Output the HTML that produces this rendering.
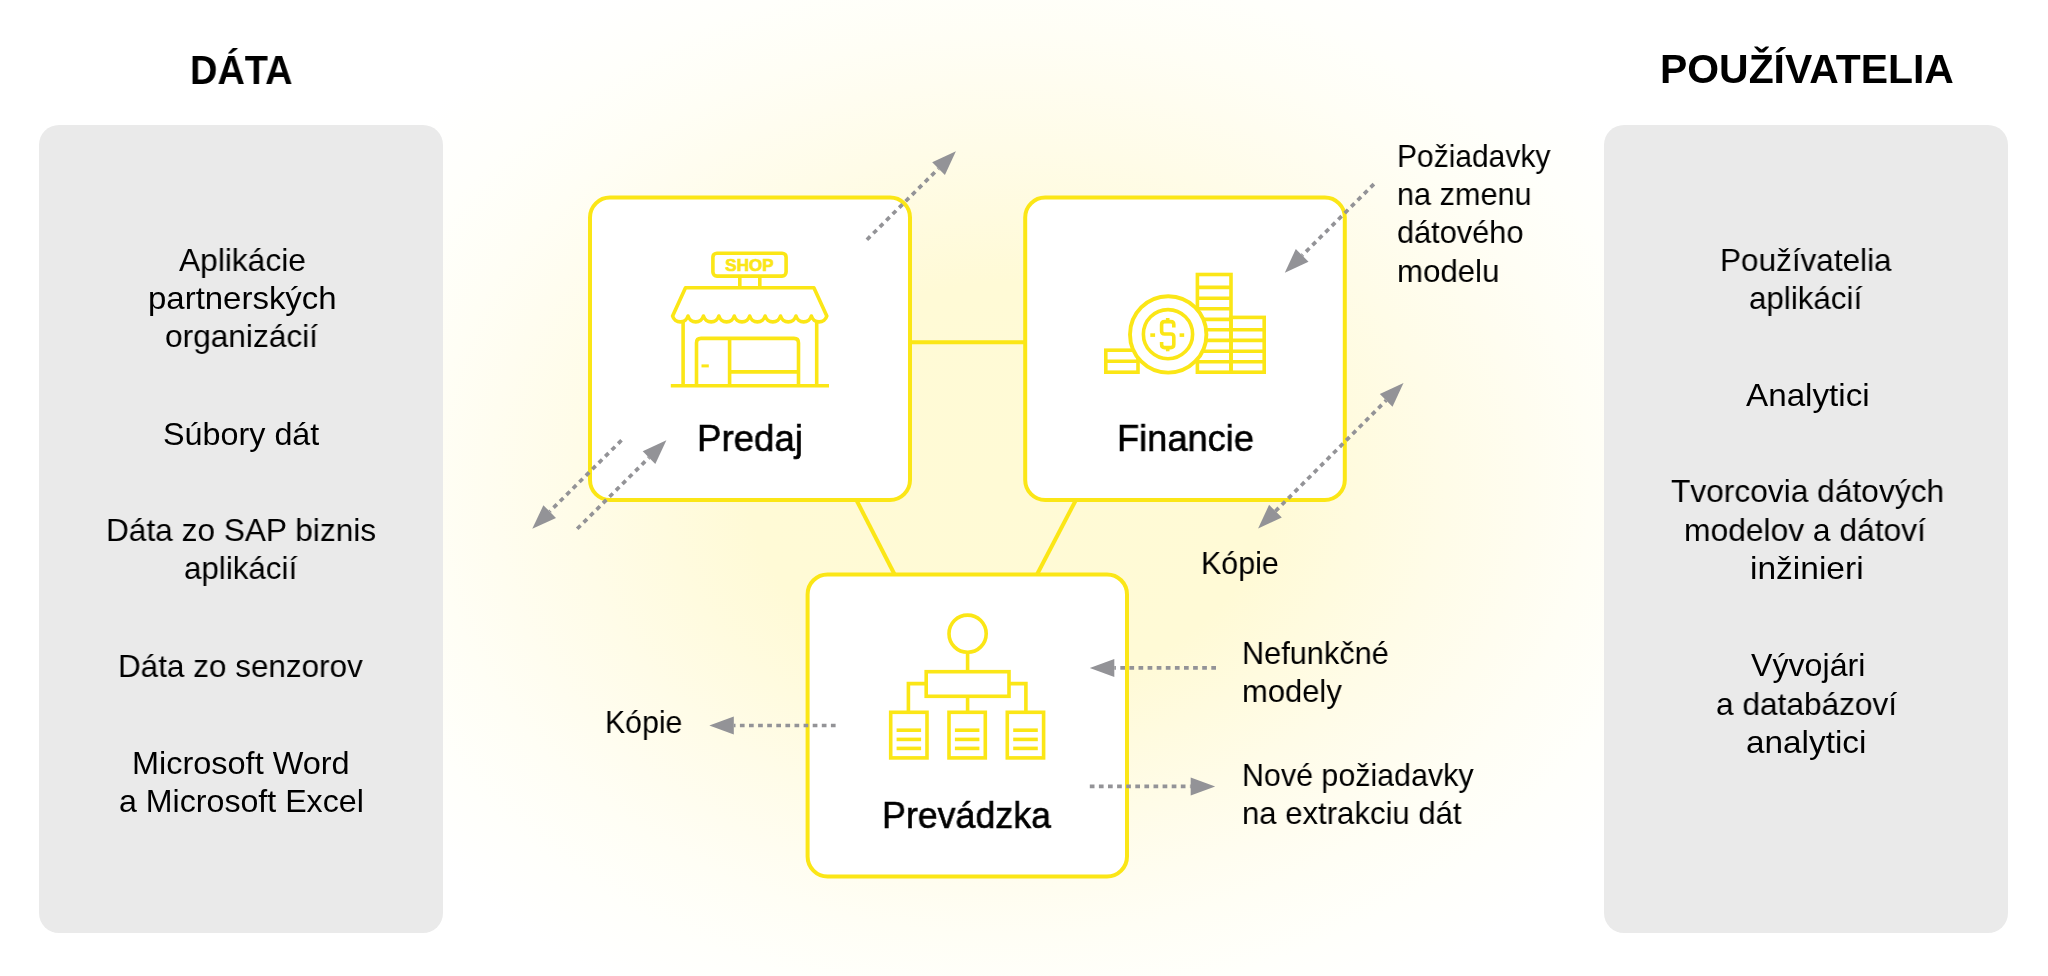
<!DOCTYPE html>
<html><head><meta charset="utf-8"><style>
html,body{margin:0;padding:0;}
body{width:2048px;height:976px;position:relative;overflow:hidden;background:#fff;font-family:"Liberation Sans", sans-serif;color:#000;}
.glow{position:absolute;left:0;top:0;width:2048px;height:976px;background:radial-gradient(ellipse 580px 450px at 1010px 485px, rgb(255,250,213) 0%, rgb(255,250,214) 45%, rgb(255,251,223) 60%, rgb(255,252,232) 75%, rgb(255,253,240) 90%, rgb(255,254,245) 100%, rgb(255,255,251) 115%, #ffffff 130%);}
.panel{position:absolute;top:125px;width:404px;height:808px;background:#eaeaea;border-radius:20px;}
svg{position:absolute;left:0;top:0;}
.t{position:absolute;white-space:nowrap;transform-origin:0 0;will-change:transform;font-family:"Liberation Sans", sans-serif;color:#000;}
</style></head><body>
<div class="glow"></div>
<div class="panel" style="left:39px"></div>
<div class="panel" style="left:1604px"></div>
<svg width="2048" height="976" viewBox="0 0 2048 976">
<g stroke="#fbe616" stroke-width="4" fill="none">
<line x1="905" y1="342.2" x2="1030" y2="342.2"/>
<line x1="856.4" y1="500" x2="894.6" y2="574.5"/>
<line x1="1075.9" y1="500" x2="1037" y2="574.5"/>
</g>
<g stroke="#fbe616" stroke-width="4" fill="#fff">
<rect x="590" y="197.6" width="320" height="302.4" rx="20"/>
<rect x="1025.2" y="197.6" width="319.6" height="302.4" rx="20"/>
<rect x="807.6" y="574.4" width="319.4" height="302.1" rx="20"/>
</g>

<g fill="none" stroke="#fbe616" stroke-width="3.6" stroke-linejoin="round">
<rect x="712.9" y="253.2" width="73.2" height="22.9" rx="4"/>
<line x1="739.8" y1="276" x2="739.8" y2="288"/>
<line x1="759.8" y1="276" x2="759.8" y2="288"/>
<path d="M672.6,316 L685.5,287.8 L813.9,287.8 L826.8,316 A8.01,8.01 0 0 1 811.38,316 A8.01,8.01 0 0 1 795.96,316 A8.01,8.01 0 0 1 780.54,316 A8.01,8.01 0 0 1 765.12,316 A8.01,8.01 0 0 1 749.70,316 A8.01,8.01 0 0 1 734.28,316 A8.01,8.01 0 0 1 718.86,316 A8.01,8.01 0 0 1 703.44,316 A8.01,8.01 0 0 1 688.02,316 A8.01,8.01 0 0 1 672.60,316 Z"/>
<line x1="683.1" y1="322" x2="683.1" y2="385.7"/>
<line x1="816.7" y1="322" x2="816.7" y2="385.7"/>
<line x1="670.8" y1="385.7" x2="829" y2="385.7"/>
<path d="M696.5,385.7 V343 Q696.5,338.4 701,338.4 H794 Q798.5,338.4 798.5,343 V385.7"/>
<line x1="729.6" y1="338.4" x2="729.6" y2="385.7"/>
<line x1="729.6" y1="371.9" x2="798.5" y2="371.9"/>
<line x1="701.5" y1="365.9" x2="708.8" y2="365.9" stroke-width="3"/>
</g>
<text x="749.5" y="270.6" font-family='"Liberation Sans"' font-weight="700" font-size="16.5" fill="#fbe616" stroke="#fbe616" stroke-width="0.7" text-anchor="middle" textLength="48.3" lengthAdjust="spacingAndGlyphs">SHOP</text>


<g fill="none" stroke="#fbe616" stroke-width="3.6">
<rect x="1105.8" y="350.2" width="32.200000000000045" height="22.0"/><line x1="1105.8" y1="361.20" x2="1138" y2="361.20"/>
<rect x="1197.4" y="274.5" width="33.59999999999991" height="97.69999999999999"/><line x1="1197.4" y1="287.40" x2="1231" y2="287.40"/><line x1="1197.4" y1="298.20" x2="1231" y2="298.20"/><line x1="1197.4" y1="308.80" x2="1231" y2="308.80"/><line x1="1197.4" y1="319.40" x2="1231" y2="319.40"/><line x1="1197.4" y1="329.80" x2="1231" y2="329.80"/><line x1="1197.4" y1="340.40" x2="1231" y2="340.40"/><line x1="1197.4" y1="351.20" x2="1231" y2="351.20"/><line x1="1197.4" y1="361.80" x2="1231" y2="361.80"/>
<rect x="1231" y="317.4" width="33.200000000000045" height="54.80000000000001"/><line x1="1231" y1="329.80" x2="1264.2" y2="329.80"/><line x1="1231" y1="340.40" x2="1264.2" y2="340.40"/><line x1="1231" y1="351.20" x2="1264.2" y2="351.20"/><line x1="1231" y1="361.80" x2="1264.2" y2="361.80"/>
<circle cx="1168.2" cy="334.4" r="38.2" fill="#fff" stroke-width="3.9"/>
<circle cx="1168" cy="334.2" r="24.6"/>
<path d="M1173.8,327.5 V324.6 Q1173.8,321.6 1170.8,321.6 H1164.6 Q1161.6,321.6 1161.6,324.6 V331 Q1161.6,334 1164.6,334 H1170.8 Q1173.8,334 1173.8,337 V344.6 Q1173.8,347.6 1170.8,347.6 H1164.6 Q1161.6,347.6 1161.6,344.6 V342"/>
<line x1="1167.7" y1="318" x2="1167.7" y2="321.6"/>
<line x1="1167.7" y1="347.6" x2="1167.7" y2="351.3"/>
<line x1="1150.3" y1="335.1" x2="1155.1" y2="335.1"/>
<line x1="1179.6" y1="335.1" x2="1184.2" y2="335.1"/>
</g>


<g fill="none" stroke="#fbe616" stroke-width="3.6">
<circle cx="967.6" cy="633.7" r="18.6"/>
<line x1="967.6" y1="652.3" x2="967.6" y2="671.7"/>
<rect x="926.2" y="671.7" width="82.8" height="24.6"/>
<polyline points="926.2,683.6 908.4,683.6 908.4,712.3"/>
<polyline points="1009,683.6 1025.9,683.6 1025.9,712.3"/>
<line x1="967.6" y1="696.3" x2="967.6" y2="712.3"/>
<rect x="890.7" y="712.3" width="36.3" height="45.6"/>
<rect x="949" y="712.3" width="36.3" height="45.6"/>
<rect x="1007.3" y="712.3" width="36.3" height="45.6"/>
<line x1="896.6" y1="730.2" x2="921.1" y2="730.2"/><line x1="896.6" y1="739.4" x2="921.1" y2="739.4"/><line x1="896.6" y1="748.4" x2="921.1" y2="748.4"/><line x1="954.9" y1="730.2" x2="979.4" y2="730.2"/><line x1="954.9" y1="739.4" x2="979.4" y2="739.4"/><line x1="954.9" y1="748.4" x2="979.4" y2="748.4"/><line x1="1013.2" y1="730.2" x2="1037.8" y2="730.2"/><line x1="1013.2" y1="739.4" x2="1037.8" y2="739.4"/><line x1="1013.2" y1="748.4" x2="1037.8" y2="748.4"/></g>
<line x1="621.5" y1="440.3" x2="549.7" y2="511.5" stroke="#939397" stroke-width="3.7" stroke-dasharray="4.7 4.4"/>
<polygon points="532.3,528.8 543.4,505.2 556.0,517.9" fill="#939397"/>
<line x1="577.2" y1="528.8" x2="649.0" y2="457.6" stroke="#939397" stroke-width="3.7" stroke-dasharray="4.7 4.4"/>
<polygon points="666.4,440.3 655.3,463.9 642.7,451.2" fill="#939397"/>
<line x1="866.9" y1="239.7" x2="938.5" y2="168.6" stroke="#939397" stroke-width="3.7" stroke-dasharray="4.7 4.4"/>
<polygon points="955.9,151.3 944.9,175.0 932.2,162.2" fill="#939397"/>
<line x1="1373.9" y1="184.1" x2="1302.2" y2="255.4" stroke="#939397" stroke-width="3.7" stroke-dasharray="4.7 4.4"/>
<polygon points="1284.8,272.7 1295.8,249.0 1308.5,261.8" fill="#939397"/>
<polygon points="1258.1,528.5 1281.8,517.5 1269.1,504.8" fill="#939397"/>
<line x1="1275.4" y1="511.2" x2="1386.2" y2="400.4" stroke="#939397" stroke-width="3.7" stroke-dasharray="4.7 4.4"/>
<polygon points="1403.5,383.1 1392.5,406.8 1379.8,394.1" fill="#939397"/>
<line x1="1216.0" y1="667.9" x2="1114.3" y2="667.9" stroke="#939397" stroke-width="3.7" stroke-dasharray="4.7 4.4"/>
<polygon points="1089.8,667.9 1114.3,658.9 1114.3,676.9" fill="#939397"/>
<line x1="1089.8" y1="786.4" x2="1190.7" y2="786.4" stroke="#939397" stroke-width="3.7" stroke-dasharray="4.7 4.4"/>
<polygon points="1215.2,786.4 1190.7,795.4 1190.7,777.4" fill="#939397"/>
<line x1="835.6" y1="725.5" x2="733.8" y2="725.5" stroke="#939397" stroke-width="3.7" stroke-dasharray="4.7 4.4"/>
<polygon points="709.3,725.5 733.8,716.5 733.8,734.5" fill="#939397"/>
</svg>
<div class="t" style="left:190.33px;top:49.60px;font-size:40px;line-height:40px;font-weight:700;transform:scaleX(0.9480);">DÁTA</div><div class="t" style="left:1659.64px;top:49.30px;font-size:40px;line-height:40px;font-weight:700;transform:scaleX(1.0225);">POUŽÍVATELIA</div><div class="t" style="left:179.10px;top:243.70px;font-size:32px;line-height:32px;font-weight:400;transform:scaleX(0.9909);">Aplikácie</div><div class="t" style="left:147.54px;top:281.80px;font-size:32px;line-height:32px;font-weight:400;transform:scaleX(1.0298);">partnerských</div><div class="t" style="left:164.56px;top:320.00px;font-size:32px;line-height:32px;font-weight:400;transform:scaleX(0.9889);">organizácií</div><div class="t" style="left:162.68px;top:418.00px;font-size:32px;line-height:32px;font-weight:400;transform:scaleX(1.0101);">Súbory dát</div><div class="t" style="left:106.33px;top:514.40px;font-size:32px;line-height:32px;font-weight:400;transform:scaleX(0.9883);">Dáta zo SAP biznis</div><div class="t" style="left:184.38px;top:552.30px;font-size:32px;line-height:32px;font-weight:400;transform:scaleX(0.9794);">aplikácií</div><div class="t" style="left:117.94px;top:650.00px;font-size:32px;line-height:32px;font-weight:400;transform:scaleX(0.9830);">Dáta zo senzorov</div><div class="t" style="left:132.46px;top:747.30px;font-size:32px;line-height:32px;font-weight:400;transform:scaleX(1.0143);">Microsoft Word</div><div class="t" style="left:119.14px;top:785.20px;font-size:32px;line-height:32px;font-weight:400;transform:scaleX(1.0048);">a Microsoft Excel</div><div class="t" style="left:1719.84px;top:243.80px;font-size:32px;line-height:32px;font-weight:400;transform:scaleX(0.9843);">Používatelia</div><div class="t" style="left:1749.28px;top:282.00px;font-size:32px;line-height:32px;font-weight:400;transform:scaleX(0.9794);">aplikácií</div><div class="t" style="left:1745.60px;top:379.40px;font-size:32px;line-height:32px;font-weight:400;transform:scaleX(1.0380);">Analytici</div><div class="t" style="left:1671.20px;top:475.30px;font-size:32px;line-height:32px;font-weight:400;transform:scaleX(0.9903);">Tvorcovia dátových</div><div class="t" style="left:1684.01px;top:513.70px;font-size:32px;line-height:32px;font-weight:400;transform:scaleX(0.9928);">modelov a dátoví</div><div class="t" style="left:1749.91px;top:552.20px;font-size:32px;line-height:32px;font-weight:400;transform:scaleX(1.0469);">inžinieri</div><div class="t" style="left:1750.70px;top:649.00px;font-size:32px;line-height:32px;font-weight:400;transform:scaleX(1.0049);">Vývojári</div><div class="t" style="left:1715.66px;top:687.50px;font-size:32px;line-height:32px;font-weight:400;transform:scaleX(0.9885);">a databázoví</div><div class="t" style="left:1746.30px;top:726.00px;font-size:32px;line-height:32px;font-weight:400;transform:scaleX(1.0414);">analytici</div><div class="t" style="left:697.02px;top:419.80px;font-size:37px;line-height:37px;font-weight:400;transform:scaleX(0.9902);-webkit-text-stroke:0.6px #000;">Predaj</div><div class="t" style="left:1116.65px;top:420.00px;font-size:37px;line-height:37px;font-weight:400;transform:scaleX(0.9794);-webkit-text-stroke:0.6px #000;">Financie</div><div class="t" style="left:881.78px;top:797.20px;font-size:37px;line-height:37px;font-weight:400;transform:scaleX(0.9667);-webkit-text-stroke:0.6px #000;">Prevádzka</div><div class="t" style="left:1396.56px;top:139.60px;font-size:32px;line-height:32px;font-weight:400;transform:scaleX(0.9366);">Požiadavky</div><div class="t" style="left:1396.98px;top:177.90px;font-size:32px;line-height:32px;font-weight:400;transform:scaleX(0.9575);">na zmenu</div><div class="t" style="left:1397.40px;top:216.30px;font-size:32px;line-height:32px;font-weight:400;transform:scaleX(0.9602);">dátového</div><div class="t" style="left:1396.95px;top:254.60px;font-size:32px;line-height:32px;font-weight:400;transform:scaleX(0.9752);">modelu</div><div class="t" style="left:1201.42px;top:547.10px;font-size:32px;line-height:32px;font-weight:400;transform:scaleX(0.9500);">Kópie</div><div class="t" style="left:1241.60px;top:637.00px;font-size:32px;line-height:32px;font-weight:400;transform:scaleX(0.9588);">Nefunkčné</div><div class="t" style="left:1242.07px;top:675.10px;font-size:32px;line-height:32px;font-weight:400;transform:scaleX(0.9669);">modely</div><div class="t" style="left:1241.62px;top:759.00px;font-size:32px;line-height:32px;font-weight:400;transform:scaleX(0.9501);">Nové požiadavky</div><div class="t" style="left:1242.06px;top:796.70px;font-size:32px;line-height:32px;font-weight:400;transform:scaleX(0.9716);">na extrakciu dát</div><div class="t" style="left:604.74px;top:706.20px;font-size:32px;line-height:32px;font-weight:400;transform:scaleX(0.9449);">Kópie</div>
</body></html>
